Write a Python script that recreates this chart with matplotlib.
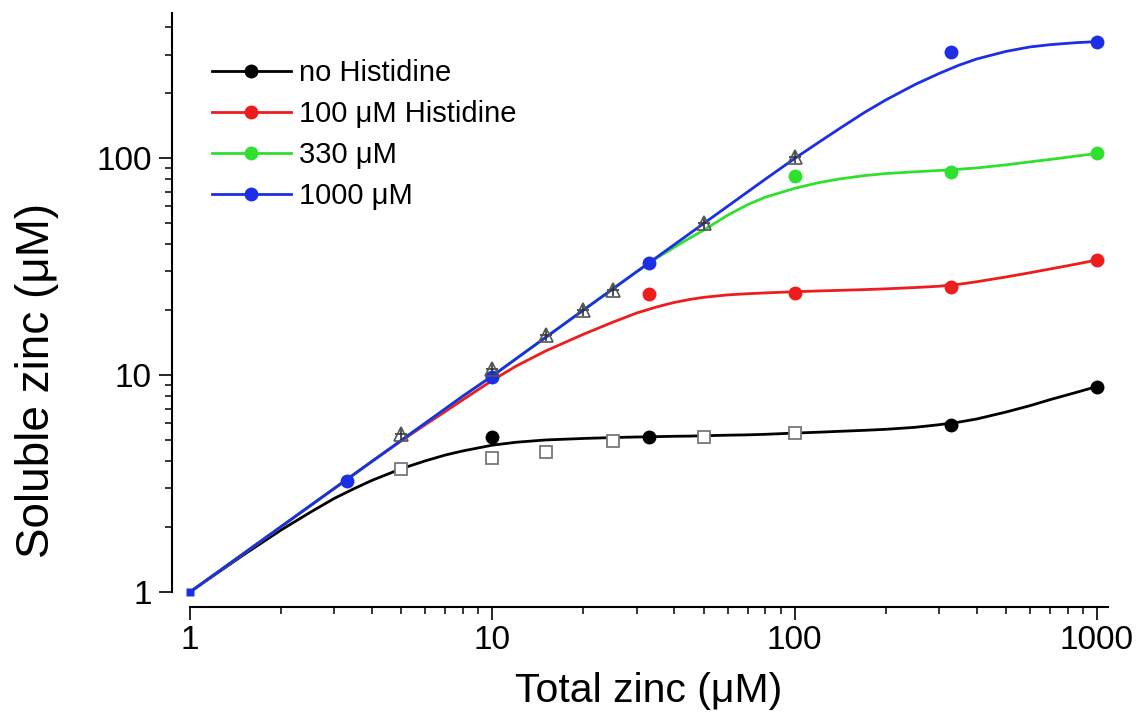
import matplotlib
matplotlib.use("Agg")
import matplotlib.pyplot as plt
from matplotlib import ticker

plt.rcParams['font.family'] = ['Liberation Sans', 'DejaVu Sans']

# ---- data ----
legend_labels = ["no Histidine", "100 \u03bcM Histidine", "330 \u03bcM", "1000 \u03bcM"]
x_ticks = [1, 10, 100, 1000]
y_ticks = [1, 10, 100]

# measured points
no_his_x = [10, 33, 330, 1000]
no_his_y = [5.16, 5.19, 5.89, 8.83]
his100_x = [33, 100, 330, 1000]
his100_y = [23.6, 23.9, 25.5, 33.9]
his330_x = [100, 330, 1000]
his330_y = [82.6, 86.5, 105]
his1000_x = [3.3, 10, 33, 330, 1000]
his1000_y = [3.26, 9.8, 32.9, 309, 344]
origin_x = [1]
origin_y = [1]
square_x = [5, 10, 15, 25, 50, 100]
square_y = [3.68, 4.13, 4.43, 4.98, 5.16, 5.39]
tri_x = [5, 10, 15, 20, 25, 50, 100]
tri_y = [5.35, 10.7, 15.3, 19.9, 24.6, 50.0, 101]

# fitted curves
curve_x = [1, 1.5, 2, 2.5, 3, 3.5, 4, 5, 6, 7, 8, 10, 12, 15, 20, 25, 30, 35, 40,
           45, 50, 60, 70, 80, 100, 120, 140, 170, 200, 250, 300, 350, 400, 500,
           600, 700, 850, 1000]
curve_no_his = [1.0, 1.48, 1.93, 2.33, 2.7, 3.0, 3.27, 3.7, 4.02, 4.28, 4.47, 4.75,
                4.9, 5.02, 5.1, 5.15, 5.18, 5.2, 5.22, 5.23, 5.25, 5.28, 5.3, 5.33,
                5.4, 5.45, 5.5, 5.56, 5.62, 5.74, 5.9, 6.07, 6.27, 6.75, 7.22, 7.7,
                8.3, 8.85]
curve_his100 = [1.0, 1.5, 2.0, 2.5, 3.0, 3.5, 4.0, 4.97, 5.9, 6.8, 7.7, 9.45, 11.0,
                12.9, 15.4, 17.5, 19.3, 20.6, 21.6, 22.3, 22.8, 23.4, 23.7, 23.9,
                24.2, 24.4, 24.55, 24.75, 24.95, 25.3, 25.65, 26.2, 26.9, 28.3, 29.6,
                30.8, 32.4, 33.9]
curve_his330 = [1.0, 1.5, 2.0, 2.5, 3.0, 3.5, 4.0, 5.0, 6.0, 7.0, 8.0, 9.9, 11.9,
                14.9, 19.9, 24.9, 29.9, 34.6, 38.8, 42.8, 46.5, 54.5, 61.0, 66.0,
                72.5, 77.0, 80.0, 83.0, 84.8, 86.4, 87.6, 88.8, 90.0, 93.0, 96.0,
                98.5, 102.0, 105.0]
curve_his1000 = [1.0, 1.5, 2.0, 2.5, 3.0, 3.5, 4.0, 5.0, 6.0, 7.0, 8.0, 9.9, 11.9,
                 14.9, 19.9, 24.9, 29.9, 34.9, 39.9, 44.9, 49.9, 59.9, 69.9, 79.9,
                 99.5, 118.0, 136.0, 162.0, 185.0, 218.0, 245.0, 268.0, 286.0, 310.0,
                 325.0, 333.0, 340.0, 344.0]

colors = ["#000000", "#ee1c1c", "#2fe02f", "#1c2ee6"]

fig = plt.figure(figsize=(11.42, 7.17), dpi=100)
ax = fig.add_axes([190 / 1142, 1 - 592 / 717, (1108 - 190) / 1142, (592 - 13) / 717])
ax.set_xscale('log')
ax.set_yscale('log')
ax.set_xlim(1, 1088)
ax.set_ylim(1, 466)

lw = 2.0
ms = 10
curves = [curve_no_his, curve_his100, curve_his330, curve_his1000]
pts = [(no_his_x, no_his_y), (his100_x, his100_y), (his330_x, his330_y), (his1000_x, his1000_y)]
for i in range(4):
    ax.plot(curve_x, curves[i], color=colors[i], lw=lw, zorder=2 + i * 0.1,
            solid_joinstyle='round', solid_capstyle='round')
for i in range(4):
    ax.plot(pts[i][0], pts[i][1], 'o', color=colors[i], ms=ms, mec='none', zorder=4)

ax.plot(origin_x, origin_y, 's', color=colors[3], ms=6, mec='none', zorder=4, clip_on=False)

ax.plot(square_x, square_y, 's', ms=9, mfc='white', mec='#777777', mew=1.3, zorder=5)
ax.plot(tri_x, tri_y, '+', ms=8, color='#333333', mew=1.2, zorder=5)
ax.plot(tri_x, tri_y, '^', ms=10, mfc='none', mec='#555555', mew=1.2, zorder=6)

# legend handles
handles = [plt.Line2D([], [], color=c, lw=lw, marker='o', ms=ms, mec='none') for c in colors]
fig.legend(handles, legend_labels, loc='upper left', bbox_to_anchor=(212 / 1142, 1 - 59 / 717),
           frameon=False, fontsize=21, handlelength=2.7, handletextpad=0.28,
           labelspacing=0.45, borderpad=0, borderaxespad=0)

# spines
for s in ['top', 'right']:
    ax.spines[s].set_visible(False)
ax.spines['left'].set_position(('outward', 13))
ax.spines['bottom'].set_position(('outward', 11))
for s in ['left', 'bottom']:
    ax.spines[s].set_linewidth(1.5)

ax.xaxis.set_major_locator(ticker.FixedLocator(x_ticks))
ax.yaxis.set_major_locator(ticker.FixedLocator(y_ticks))
fmt = ticker.FuncFormatter(lambda v, p: f"{v:g}")
ax.xaxis.set_major_formatter(fmt)
ax.yaxis.set_major_formatter(fmt)
ax.xaxis.set_minor_locator(ticker.LogLocator(base=10, subs=range(2, 10), numticks=20))
ax.yaxis.set_minor_locator(ticker.LogLocator(base=10, subs=range(2, 10), numticks=20))
ax.xaxis.set_minor_formatter(ticker.NullFormatter())
ax.yaxis.set_minor_formatter(ticker.NullFormatter())
ax.tick_params(which='major', direction='out', length=9.5, width=1.2, labelsize=24)
ax.tick_params(which='minor', direction='out', length=5, width=1.1)
ax.tick_params(axis='y', which='major', pad=5)
ax.tick_params(axis='x', which='major', pad=3)

ax.set_xlabel("Total zinc (\u03bcM)", fontsize=29.5)
ax.set_ylabel("Soluble zinc (\u03bcM)", fontsize=33)
ax.xaxis.set_label_coords(0.5, -0.138)
ax.yaxis.set_label_coords(-0.143, 0.365)

fig.savefig("out.png", dpi=100)
